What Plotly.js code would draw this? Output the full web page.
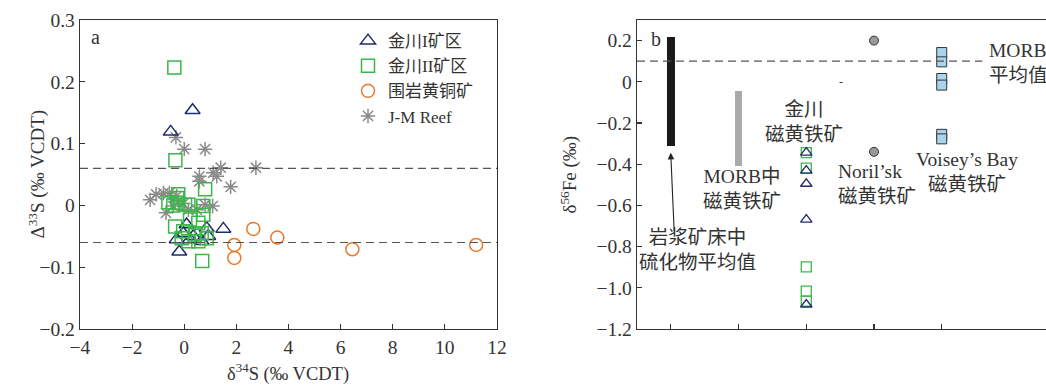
<!DOCTYPE html>
<html><head><meta charset="utf-8">
<script src="https://cdn.plot.ly/plotly-3.0.1.min.js"></script>
<style>html,body{margin:0;padding:0;background:#fff}#chart{width:1046px;height:385px}</style>
</head><body><div id="chart"></div>
<script>
// ---------- Panel a : Δ33S vs δ34S ----------
const jc1X = [0.32, -0.52, 1.5, -0.19, 0.09, -0.04, -0.29, 0.35, 0.92, 0.67, 0.22, 0.86];
const jc1Y = [0.154, 0.119, -0.038, -0.075, -0.031, -0.045, -0.055, -0.05, -0.05, -0.058, -0.055, -0.037];
const jc2X = [-0.38, -0.34, 0.8, -0.61, -0.23, -0.23, 0.16, 0.73, 0.73, -0.35, 0.22, 0.54, -0.04, -0.1, 0.41, 0.67, 0.86, 0.54, 0.16, 0.69, -0.42, 0.03, -0.27];
const jc2Y = [0.223, 0.073, 0.026, 0.005, 0.018, 0.004, 0.001, -0.001, -0.015, -0.034, -0.023, -0.028, -0.042, -0.053, -0.047, -0.045, -0.053, -0.058, -0.058, -0.09, 0.0, 0.001, 0.012];
const ccpX = [1.92, 1.92, 2.65, 3.57, 6.45, 11.2];
const ccpY = [-0.064, -0.085, -0.038, -0.052, -0.071, -0.064];
const jmX = [-0.32, 0.0, 0.8, 1.4, 2.75, 1.11, 0.58, 1.25, 0.58, 1.78, -1.31, -1.08, -0.8, -0.57, -0.7, -0.04, 0.8, 1.09, -0.29, 0.16, -0.42, 0.48];
const jmY = [0.11, 0.091, 0.091, 0.061, 0.061, 0.053, 0.047, 0.047, 0.039, 0.03, 0.009, 0.018, 0.02, 0.02, -0.012, 0.003, 0.001, -0.001, 0.015, -0.007, -0.001, -0.007];
const seriesNames = ['金川I矿区', '金川II矿区', '围岩黄铜矿', 'J-M Reef'];
const mdfLimits = [0.06, -0.06];
const aXTicks = [-4, -2, 0, 2, 4, 6, 8, 10, 12];
const aYTicks = [0.3, 0.2, 0.1, 0, -0.1, -0.2];
const aYTickText = ['0.3', '0.2', '0.1', '0', '\u22120.1', '\u22120.2'];

// ---------- Panel b : δ56Fe ----------
const bPositions = [1, 2, 3, 4, 5];
const barLow = [-0.311, -0.407];
const barHigh = [0.218, -0.044];
const jcTriY = [-0.344, -0.431, -0.495, -0.669, -1.081];
const jcSqY = [-0.344, -0.419, -0.898, -1.016, -1.065];
const norilskY = [0.2, -0.34];
const voiseyY = [0.142, 0.097, 0.016, -0.016, -0.255, -0.277];
const morbMean = 0.1;
const bYTicks = [0.2, 0, -0.2, -0.4, -0.6, -0.8, -1.0, -1.2];
const bYTickText = ['0.2', '0', '\u22120.2', '\u22120.4', '\u22120.6', '\u22120.8', '\u22121.0', '\u22121.2'];

const FONT = 'Liberation Serif, Noto Sans CJK SC, serif';
const TXT = '#333';
const navy = '#1f2a6e', green = '#3cb64b', orange = '#e8792f', gray = '#8a8a8a';

const traces = [
  {x: jmX, y: jmY, type: 'scatter', mode: 'markers', name: seriesNames[3], legendrank: 4,
   marker: {symbol: 'asterisk-open', size: 12, color: gray, line: {color: gray, width: 1.5}}},
  {x: jc1X, y: jc1Y, type: 'scatter', mode: 'markers', name: seriesNames[0], legendrank: 1,
   marker: {symbol: 'triangle-up-open', size: 13, color: navy, line: {color: navy, width: 1.5}}},
  {x: jc2X, y: jc2Y, type: 'scatter', mode: 'markers', name: seriesNames[1], legendrank: 2,
   marker: {symbol: 'square-open', size: 13, color: green, line: {color: green, width: 1.5}}},
  {x: ccpX, y: ccpY, type: 'scatter', mode: 'markers', name: seriesNames[2], legendrank: 3,
   marker: {symbol: 'circle-open', size: 13, color: orange, line: {color: orange, width: 1.5}}},
  // panel b
  {x: bPositions.slice(0, 2), base: barLow, y: barHigh.map((h, i) => h - barLow[i]), type: 'bar',
   xaxis: 'x2', yaxis: 'y2', width: 0.115, marker: {color: ['#1a1a1a', '#aaaaaa']}, showlegend: false, hoverinfo: 'skip'},
  {x: jcSqY.map(() => bPositions[2]), y: jcSqY, type: 'scatter', mode: 'markers', xaxis: 'x2', yaxis: 'y2', showlegend: false,
   marker: {symbol: 'square-open', size: 10, color: green, line: {color: green, width: 1.3}}},
  {x: jcTriY.map(() => bPositions[2]), y: jcTriY, type: 'scatter', mode: 'markers', xaxis: 'x2', yaxis: 'y2', showlegend: false,
   marker: {symbol: 'triangle-up-open', size: 10, color: navy, line: {color: navy, width: 1.3}}},
  {x: norilskY.map(() => bPositions[3]), y: norilskY, type: 'scatter', mode: 'markers', xaxis: 'x2', yaxis: 'y2', showlegend: false,
   marker: {symbol: 'circle', size: 9, color: '#999', line: {color: '#333', width: 1}}},
  {x: voiseyY.map(() => bPositions[4]), y: voiseyY, type: 'scatter', mode: 'markers', xaxis: 'x2', yaxis: 'y2', showlegend: false,
   marker: {symbol: 'square', size: 10, color: '#a8d4ec', line: {color: '#333', width: 1}}}
];

const axBase = {showgrid: false, zeroline: false, showline: true, linecolor: '#333', linewidth: 1.3,
  ticks: 'inside', ticklen: 5, tickwidth: 1.2, tickcolor: '#333',
  tickfont: {family: FONT, size: 19.5, color: TXT}};

const shapes = mdfLimits.map(v => ({type: 'line', xref: 'x', yref: 'y', x0: -4, x1: 12, y0: v, y1: v,
  line: {color: '#555', width: 1.2, dash: '8px,5px'}}));
shapes.push({type: 'line', xref: 'x2', yref: 'y2', x0: 0.5, x1: 5.6, y0: morbMean, y1: morbMean,
  line: {color: '#555', width: 1.2, dash: '8px,5px'}});

const ann = (o) => Object.assign({showarrow: false, xanchor: 'center', yanchor: 'middle',
  font: {family: FONT, size: 19.5, color: TXT}}, o);
const annotations = [
  ann({xref: 'x', yref: 'y', x: -3.39, y: 0.272, text: 'a', font: {family: FONT, size: 20, color: TXT}}),
  ann({xref: 'x2', yref: 'y2', x: 0.78, y: 0.21, text: 'b', font: {family: FONT, size: 20, color: TXT}}),
  ann({xref: 'paper', yref: 'paper', x: 0.2749, y: -0.142, text: '\u03b4<sup>34</sup>S (\u2030 VCDT)', font: {family: FONT, size: 18.5, color: TXT}}),
  ann({xref: 'paper', yref: 'paper', x: 0.0354, y: 0.5, textangle: -90, text: '\u0394<sup>33</sup>S (\u2030 VCDT)', font: {family: FONT, size: 19, color: TXT}}),
  ann({xref: 'paper', yref: 'paper', x: 0.544, y: 0.5, textangle: -90, text: '\u03b4<sup>56</sup>Fe (\u2030)', font: {family: FONT, size: 19, color: TXT}}),
  ann({xref: 'x2', yref: 'y2', x: 1.40, y: -0.818, text: '岩浆矿床中<br>硫化物平均值'}),
  {xref: 'x2', yref: 'y2', axref: 'x2', ayref: 'y2', x: 0.998, y: -0.345, ax: 1.05, ay: -0.733, text: '',
   showarrow: true, arrowhead: 2, arrowsize: 1.2, arrowwidth: 1.1, arrowcolor: '#222'},
  ann({xref: 'x2', yref: 'y2', x: 2.051, y: -0.52, text: 'MORB中<br>磁黄铁矿'}),
  ann({xref: 'x2', yref: 'y2', x: 2.967, y: -0.194, text: '金川<br>磁黄铁矿'}),
  ann({xref: 'x2', yref: 'y2', x: 3.44, y: -0.494, xanchor: 'left', align: 'left', text: 'Noril\u2019sk<br>磁黄铁矿'}),
  ann({xref: 'x2', yref: 'y2', x: 5.367, y: -0.44, text: 'Voisey\u2019s Bay<br>磁黄铁矿'}),
  ann({xref: 'x2', yref: 'y2', x: 5.67, y: 0.093, xanchor: 'left', align: 'left', text: 'MORB<br>平均值', bgcolor: '#fff'}),
  ann({xref: 'x2', yref: 'y2', x: 3.51, y: 0.0, text: '-', font: {family: FONT, size: 12, color: TXT}})
];

const layout = {
  width: 1046, height: 385,
  margin: {l: 0, r: 0, t: 20, b: 56},
  paper_bgcolor: '#fff', plot_bgcolor: '#fff',
  font: {family: FONT, color: TXT},
  showlegend: true,
  legend: {x: 0.3327, y: 0.99, xanchor: 'left', yanchor: 'top', bgcolor: 'rgba(0,0,0,0)',
    font: {family: FONT, size: 17, color: TXT}},
  xaxis: Object.assign({}, axBase, {domain: [0.07648, 0.47514], range: [-4, 12], tickvals: aXTicks, mirror: true}),
  yaxis: Object.assign({}, axBase, {range: [-0.2, 0.3], tickvals: aYTicks, ticktext: aYTickText, mirror: true}),
  xaxis2: Object.assign({}, axBase, {domain: [0.60899, 1], range: [0.5, 6.54], tickvals: bPositions, showticklabels: false, mirror: true, anchor: 'y2'}),
  yaxis2: Object.assign({}, axBase, {range: [-1.2, 0.3], tickvals: bYTicks, ticktext: bYTickText, anchor: 'x2'}),
  shapes: shapes,
  annotations: annotations,
  bargap: 0
};

Plotly.newPlot('chart', traces, layout, {displayModeBar: false, staticPlot: true});
</script></body></html>
